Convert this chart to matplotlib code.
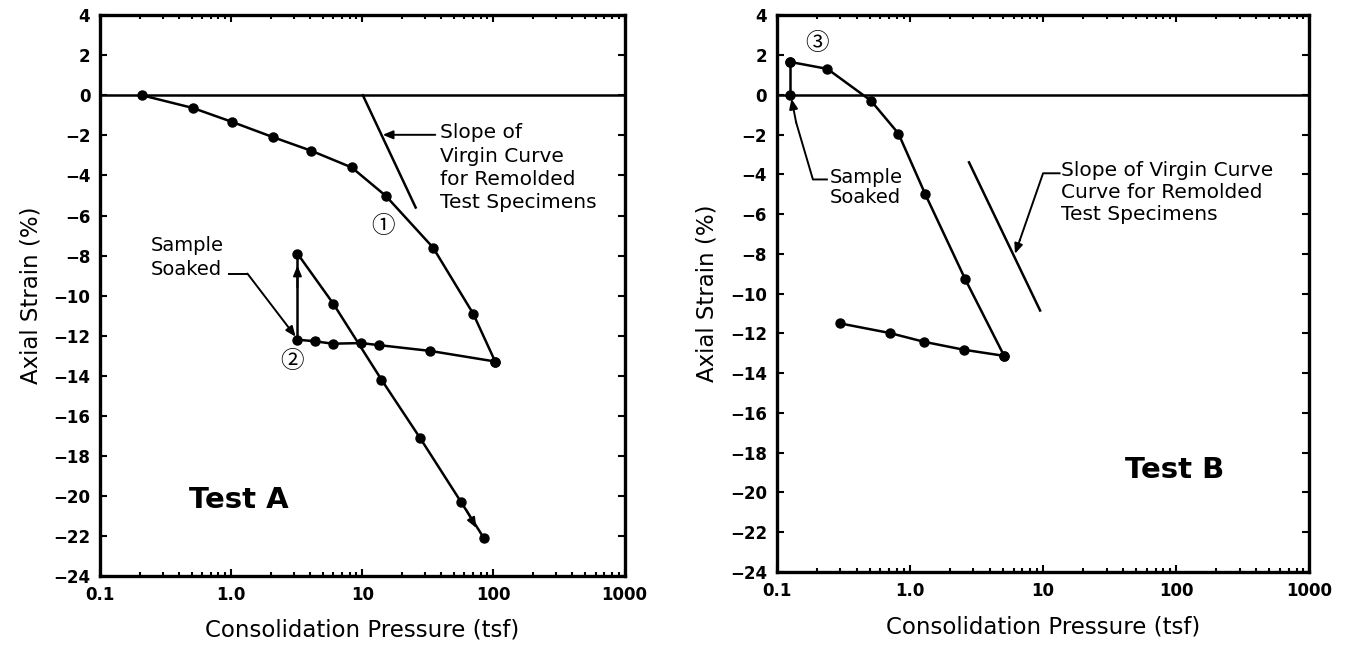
import matplotlib
matplotlib.use("Agg")
import matplotlib.pyplot as plt
from matplotlib.ticker import FixedLocator, FixedFormatter, LogLocator, NullFormatter

plt.rcParams['font.family'] = ['DejaVu Sans', 'Noto Sans CJK JP']

# Test A data (pressure in tsf, strain in %)
a_load_x = [0.21, 0.51, 1.02, 2.07, 4.09, 8.3, 15.1, 34.6, 70, 103]
a_load_y = [0.0, -0.63, -1.33, -2.08, -2.77, -3.6, -5.02, -7.6, -10.9, -13.29]
a_unload_x = [103, 32.8, 13.3, 9.8, 5.93, 4.35, 3.2]
a_unload_y = [-13.29, -12.76, -12.47, -12.37, -12.4, -12.28, -12.2]
a_soak_x = [3.2, 3.2]
a_soak_y = [-12.2, -7.9]
a_reload_x = [3.2, 6.0, 14.0, 27.5, 56.5, 84.4]
a_reload_y = [-7.9, -10.4, -14.2, -17.1, -20.3, -22.1]
a_virgin_x = [10.1, 25.5]
a_virgin_y = [0.0, -5.6]

# Test B data
b_soak_x = [0.126, 0.126]
b_soak_y = [0.0, 1.65]
b_load_x = [0.126, 0.24, 0.51, 0.82, 1.3, 2.6, 5.1]
b_load_y = [1.65, 1.3, -0.3, -1.95, -4.98, -9.27, -13.13]
b_unload_x = [5.1, 2.53, 1.27, 0.705, 0.3]
b_unload_y = [-13.13, -12.82, -12.42, -11.98, -11.5]
b_virgin_x = [2.78, 9.5]
b_virgin_y = [-3.4, -10.85]

x_ticks = [0.1, 1, 10, 100, 1000]
x_labels = ['0.1', '1.0', '10', '100', '1000']
y_ticks = list(range(-24, 5, 2))

LW = 1.8
MS = 6.5
NOTE = 14.5
arrow_kw = dict(arrowstyle='-|>,head_length=0.6,head_width=0.25', color='black', lw=1.4,
                shrinkA=0, shrinkB=0)
circ_font = ['Noto Sans CJK JP', 'DejaVu Sans']


def style_axes(ax):
    ax.set_xscale('log')
    ax.set_xlim(0.1, 1000)
    ax.set_ylim(-24, 4)
    ax.xaxis.set_major_locator(FixedLocator(x_ticks))
    ax.xaxis.set_major_formatter(FixedFormatter(x_labels))
    ax.xaxis.set_minor_locator(LogLocator(base=10, subs=range(2, 10)))
    ax.xaxis.set_minor_formatter(NullFormatter())
    ax.set_yticks(y_ticks)
    ax.set_yticklabels([str(v).replace('-', '\u2212') for v in y_ticks])
    ax.tick_params(which='both', direction='in', top=True, right=True, labelsize=12, width=1.5)
    ax.tick_params(which='major', length=5, pad=7)
    ax.tick_params(which='minor', length=3)
    for lab in ax.get_xticklabels() + ax.get_yticklabels():
        lab.set_fontweight('bold')
    for s in ax.spines.values():
        s.set_linewidth(2.4)
    ax.axhline(0, color='black', lw=LW)
    ax.set_xlabel('Consolidation Pressure (tsf)', fontsize=16.5, labelpad=11)
    ax.set_ylabel('Axial Strain (%)', fontsize=16.5, labelpad=8)


fig = plt.figure(figsize=(13.52, 6.49), dpi=100)
ax1 = fig.add_axes([0.074, 0.1125, 0.388, 0.864])
ax2 = fig.add_axes([0.5745, 0.1186, 0.394, 0.858])

# ---- Test A ----
style_axes(ax1)
ax1.plot(a_load_x, a_load_y, 'k-o', lw=LW, ms=MS)
ax1.plot(a_unload_x, a_unload_y, 'k-o', lw=LW, ms=MS)
ax1.plot(a_soak_x, a_soak_y, 'k-', lw=LW)
ax1.plot(a_reload_x, a_reload_y, 'k-o', lw=LW, ms=MS)
ax1.plot(a_virgin_x, a_virgin_y, 'k-', lw=LW)

# arrows along the path
ax1.annotate('', xy=(3.2, -8.5), xytext=(3.2, -9.6), arrowprops=arrow_kw)
ax1.annotate('', xy=(3.8, -12.25), xytext=(4.6, -12.3), arrowprops=arrow_kw)
ax1.annotate('', xy=(74, -21.6), xytext=(62, -20.7), arrowprops=arrow_kw)

ax1.text(38.8, -1.4, 'Slope of\nVirgin Curve\nfor Remolded\nTest Specimens', fontsize=NOTE,
         ha='left', va='top', linespacing=1.28)
ax1.annotate('', xy=(14.3, -1.97), xytext=(36, -1.97), arrowprops=arrow_kw)

ax1.text(0.243, -7.0, 'Sample\nSoaked', fontsize=14, ha='left', va='top', linespacing=1.38)
ax1.plot([0.97, 1.33], [-8.9, -8.9], 'k-', lw=1.4)
ax1.annotate('', xy=(3.1, -12.05), xytext=(1.33, -8.9), arrowprops=arrow_kw)

ax1.text(14.3, -6.55, '\u2460', fontsize=17, ha='center', va='center', family=circ_font)
ax1.text(2.92, -13.3, '\u2461', fontsize=17, ha='center', va='center', family=circ_font)
ax1.text(0.48, -20.2, 'Test A', fontsize=21, fontweight='bold', ha='left', va='center')

# ---- Test B ----
style_axes(ax2)
ax2.plot(b_soak_x, b_soak_y, 'k-o', lw=LW, ms=MS)
ax2.plot(b_load_x, b_load_y, 'k-o', lw=LW, ms=MS)
ax2.plot(b_unload_x, b_unload_y, 'k-o', lw=LW, ms=MS)
ax2.plot(b_virgin_x, b_virgin_y, 'k-', lw=LW)

ax2.text(0.248, -3.66, 'Sample\nSoaked', fontsize=14, ha='left', va='top', linespacing=1.12)
ax2.plot([0.238, 0.187, 0.14], [-4.26, -4.26, -1.4], 'k-', lw=1.4)
ax2.annotate('', xy=(0.129, -0.2), xytext=(0.14, -1.4), arrowprops=arrow_kw)

ax2.text(13.7, -3.35, 'Slope of Virgin Curve\nCurve for Remolded\nTest Specimens', fontsize=NOTE,
         ha='left', va='top', linespacing=1.2)
ax2.plot([13.3, 10.0, 6.7], [-3.95, -3.95, -7.3], 'k-', lw=1.4)
ax2.annotate('', xy=(6.15, -8.0), xytext=(6.7, -7.3), arrowprops=arrow_kw)

ax2.text(0.2, 2.6, '\u2462', fontsize=17, ha='center', va='center', family=circ_font)
ax2.text(40.9, -18.85, 'Test B', fontsize=21, fontweight='bold', ha='left', va='center')

fig.savefig('out.png', dpi=100)
